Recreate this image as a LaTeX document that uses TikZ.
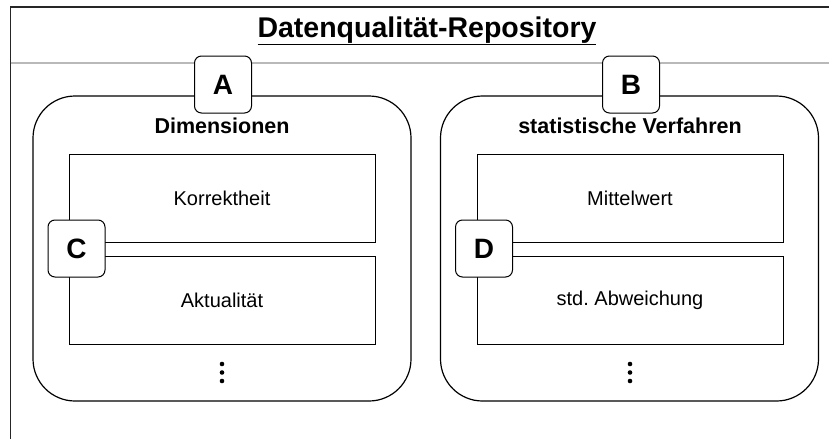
\documentclass[tikz,border=0pt]{standalone}
\usepackage{fontspec}
\setmainfont{Liberation Sans}

\begin{document}
\begin{tikzpicture}[x=1pt, y=-1pt,
  frame/.style={line width=1.4pt, black!85},
  group/.style={draw, line width=1.2pt, rounded corners=42pt, inner sep=0pt,
    minimum width=378pt, minimum height=305pt},
  entry/.style={draw, line width=1pt, inner sep=0pt, minimum width=306pt,
    minimum height=88pt, font=\frenchspacing\fontsize{20}{24}\selectfont},
  tag/.style={draw, fill=white, line width=1pt, rounded corners=7pt, inner sep=0pt,
    minimum size=57pt, font=\bfseries\fontsize{28}{32}\selectfont},
  heading/.style={anchor=base, font=\bfseries\fontsize{21.5}{25}\selectfont}]
  \useasboundingbox (0,0) rectangle (829,439);

  \draw[frame] (829,7) -- (10.5,7) -- (10.5,439);
  \node[anchor=base, font=\bfseries\fontsize{28.5}{32}\selectfont] (title) at (427,37)
    {\underline{Datenqualität-Repository}};
  \draw[gray!55, line width=1.5pt] (10.5,63) -- (829,63);

  \node[group] (dims) at (222,248.5) {};
  \node[group] (stats) at (629.5,248.5) {};

  \node[heading] (dimshead) at (222,133) {Dimensionen};
  \node[heading] (statshead) at (630,133) {statistische Verfahren};

  \node[entry] (korr) at (222,198) {Korrektheit};
  \node[entry] (aktu) at (222,300) {Aktualität};
  \node[entry] (mitt) at (630,198) {Mittelwert};
  \node[entry] (abw) at (630,300) {std. Abweichung};

  \coordinate (moredims) at (222,372.5);
  \coordinate (morestats) at (630,372.5);
  \foreach \dy in {-8.5,0,8.5} {
    \fill ([yshift=\dy pt]moredims) circle (2.3pt);
    \fill ([yshift=\dy pt]morestats) circle (2.3pt);
  }

  \node[tag] (tagA) at (223,84.5) {A};
  \node[tag] (tagB) at (631,84.5) {B};
  \node[tag] (tagC) at (76.5,248.5) {C};
  \node[tag] (tagD) at (484,248.5) {D};
\end{tikzpicture}
\end{document}
